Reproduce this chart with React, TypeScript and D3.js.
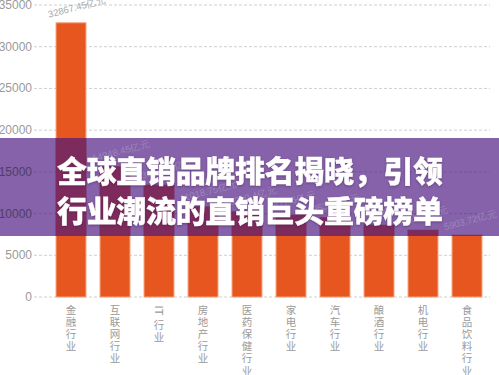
import { useEffect } from "react";
import * as d3 from "d3";

// categories and values
const categories = [
  "金融行业",
  "互联网行业",
  "IT行业",
  "房地产行业",
  "医药保健行业",
  "家电行业",
  "汽车行业",
  "酿酒行业",
  "机电行业",
  "食品饮料行业",
];
const values = [32867.45, 15600, 13400, 10800, 10200, 9800, 9500, 8600, 8000, 7400];
const valueLabels = [
  "32867.45亿元",
  "14948.45亿元",
  "13948.75亿元",
  "11018.75亿元",
  "10210.4亿元",
  "9812.6亿元",
  "9530.2亿元",
  "8630.5亿元",
  "6403.5亿元",
  "5903.72亿元",
];
const yTicks = [0, 5000, 10000, 15000, 20000, 25000, 30000, 35000];
const titleLines = ["全球直销品牌排名揭晓，引领", "行业潮流的直销巨头重磅榜单"];

const W = 499;
const H = 375;
const bandTop = 138;
const bandBottom = 236;

const App = () => {
  useEffect(() => {
    document.body.style.margin = "0";
  }, []);

  const x = d3
    .scaleBand()
    .domain(categories)
    .range([49, 489])
    .paddingInner(0.32)
    .paddingOuter(0.16);

  const y = d3.scaleLinear().domain([0, 35000]).range([297, 5]);

  const axisFont = "'Liberation Sans', Arial, sans-serif";
  const cjkFont = "'Noto Sans CJK SC', sans-serif";

  // vertical category labels, latin runs are turned sideways
  const verticalLabel = (label: string, cx: number) => {
    const tokens = label.match(/[A-Za-z0-9]+|./g) || [];
    let cy = 304;
    const out: any[] = [];
    tokens.forEach((t, i) => {
      if (/^[A-Za-z0-9]+$/.test(t)) {
        const len = t.length * 6.5;
        out.push(
          <text
            key={i}
            x={0}
            y={0}
            transform={`translate(${cx},${cy + len / 2}) rotate(90)`}
            textAnchor="middle"
            dominantBaseline="central"
            fontSize={11}
            fill="#9a9a9a"
            fontFamily={axisFont}
          >
            {t}
          </text>
        );
        cy += len + 2;
      } else {
        out.push(
          <text
            key={i}
            x={cx}
            y={cy + 5}
            textAnchor="middle"
            dominantBaseline="central"
            fontSize={10.5}
            fill="#9a9a9a"
            fontFamily={cjkFont}
          >
            {t}
          </text>
        );
        cy += 12.2;
      }
    });
    return out;
  };

  const bars = (fill: string, stroke: string) =>
    categories.map((c, i) => (
      <rect
        key={c}
        x={x(c)}
        y={y(values[i])}
        width={x.bandwidth()}
        height={y(0) - y(values[i])}
        fill={fill}
        stroke={stroke}
        strokeWidth={1}
      />
    ));

  const labels = (fill: string) =>
    categories.map((c, i) => {
      const lx = (x(c) as number) - 7;
      const ly = y(values[i]) - 5;
      return (
        <text
          key={c}
          transform={`translate(${lx},${ly}) rotate(-15)`}
          fontSize={9.5}
          fill={fill}
          fontFamily={axisFont}
        >
          {valueLabels[i]}
        </text>
      );
    });

  const tickLabels = (fill: string) =>
    yTicks.map((t) => (
      <text
        key={t}
        x={32}
        y={y(t)}
        textAnchor="end"
        dominantBaseline="central"
        fontSize={12}
        fill={fill}
        fontFamily={axisFont}
      >
        {t}
      </text>
    ));

  return (
    <div style={{ position: "absolute", left: 0, top: 0 }}>
      <svg width={W} height={H} style={{ display: "block", background: "#fff" }}>
        <defs>
          <clipPath id="band">
            <rect x={0} y={bandTop} width={W} height={bandBottom - bandTop} />
          </clipPath>
        </defs>

        {/* grid */}
        <g>
          {yTicks.map((t) => (
            <line
              key={t}
              x1={34}
              x2={490}
              y1={y(t)}
              y2={y(t)}
              stroke="#cfcfcf"
              strokeDasharray="3,2"
            />
          ))}
        </g>
        <g>{tickLabels("#9a9a9a")}</g>
        <g>{bars("#e8561f", "#f4a27c")}</g>
        <g>{labels("#a8a8a8")}</g>
        <g>{categories.map((c) => verticalLabel(c, (x(c) as number) + x.bandwidth() / 2))}</g>

        {/* purple banner */}
        <rect x={0} y={bandTop} width={W} height={bandBottom - bandTop} fill="#8562a9" />
        <g clipPath="url(#band)">
          {yTicks.map((t) => (
            <line
              key={t}
              x1={34}
              x2={490}
              y1={y(t)}
              y2={y(t)}
              stroke="#73569a"
              strokeDasharray="3,2"
            />
          ))}
          {tickLabels("#4f3f66")}
          {labels("#9d86bb")}
          {bars("#7c2b5c", "#7c2b5c")}
        </g>
        <g
          fontFamily={cjkFont}
          fontWeight={900}
          fill="#fff"
          stroke="#fff"
          strokeWidth={0.4}
          strokeLinejoin="round"
          fontSize={30}
          style={{ filter: "drop-shadow(0px 1px 1px rgba(60,20,60,0.4))" }}
        >
          <text x={57} y={182} textLength={386} lengthAdjust="spacing">
            {titleLines[0]}
          </text>
          <text x={57} y={222} textLength={386} lengthAdjust="spacing">
            {titleLines[1]}
          </text>
        </g>
      </svg>
    </div>
  );
};

export default App;
